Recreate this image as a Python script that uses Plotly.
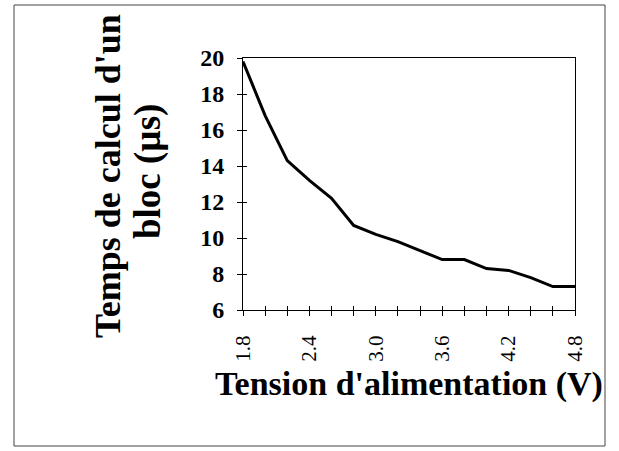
import plotly.graph_objects as go

voltages = [1.8, 2.0, 2.2, 2.4, 2.6, 2.8, 3.0, 3.2, 3.4, 3.6, 3.8, 4.0, 4.2, 4.4, 4.6, 4.8]
temps_us = [19.8, 16.8, 14.3, 13.2, 12.2, 10.7, 10.2, 9.8, 9.3, 8.8, 8.8, 8.3, 8.2, 7.8, 7.3, 7.3]
x_tick_vals = [1.8, 2.4, 3.0, 3.6, 4.2, 4.8]
x_tick_text = ["1.8", "2.4", "3.0", "3.6", "4.2", "4.8"]
y_tick_vals = [6, 8, 10, 12, 14, 16, 18, 20]

x_title = "Tension d'alimentation (V)"
y_title_1 = "Temps de calcul d'un"
y_title_2 = "bloc (µs)"

FONT = "Liberation Serif"

fig = go.Figure()
fig.add_trace(go.Scatter(x=voltages, y=temps_us, mode="lines",
                         line=dict(color="black", width=3), showlegend=False,
                         hoverinfo="skip"))
# invisible trace on overlay axes (for inner tick marks)
fig.add_trace(go.Scatter(x=voltages, y=temps_us, mode="lines", xaxis="x2", yaxis="y2",
                         line=dict(color="rgba(0,0,0,0)", width=0), showlegend=False,
                         hoverinfo="skip"))

fig.update_layout(
    width=619, height=451,
    margin=dict(l=243, r=44, t=58, b=141),
    paper_bgcolor="white", plot_bgcolor="white",
    font=dict(family=FONT, color="black"),
    xaxis=dict(range=[1.8, 4.8], tickmode="array", tickvals=x_tick_vals, ticktext=x_tick_text,
               tickangle=-90, tickfont=dict(size=21, family=FONT),
               ticks="outside", ticklen=5, tickwidth=1, tickcolor="black",
               minor=dict(dtick=0.2, tick0=1.8, ticks="outside", ticklen=5, tickcolor="black", showgrid=False),
               showline=True, linecolor="black", linewidth=1, mirror=True,
               showgrid=False, zeroline=False, ticklabelstandoff=11,
               title=dict(text=x_title, font=dict(size=34, family=FONT, weight="bold"), standoff=10)),
    yaxis=dict(range=[6, 20], tickvals=y_tick_vals,
               tickfont=dict(size=24, family=FONT, weight="bold"),
               ticks="outside", ticklen=5, tickwidth=1, tickcolor="black",
               showline=True, linecolor="black", linewidth=1, mirror=True,
               showgrid=False, zeroline=False, ticklabelstandoff=8),
    xaxis2=dict(overlaying="x", anchor="y", range=[1.8, 4.8], dtick=0.2, tick0=1.8,
                ticks="inside", ticklen=4, tickcolor="black", showticklabels=False,
                showgrid=False, zeroline=False, showline=False),
    yaxis2=dict(overlaying="y", anchor="x", range=[6, 20], dtick=2,
                ticks="inside", ticklen=4, tickcolor="black", showticklabels=False,
                showgrid=False, zeroline=False, showline=False),
    annotations=[
        dict(text=y_title_1, xref="paper", yref="paper", x=(108 - 243) / 332, y=(310 - 176) / 252,
             xanchor="center", yanchor="middle", textangle=-90, showarrow=False,
             font=dict(size=36, family=FONT, weight="bold")),
        dict(text=y_title_2, xref="paper", yref="paper", x=(148 - 243) / 332, y=(310 - 172) / 252,
             xanchor="center", yanchor="middle", textangle=-90, showarrow=False,
             font=dict(size=37, family=FONT, weight="bold")),
    ],
    shapes=[dict(type="rect", xref="paper", yref="paper",
                 x0=(14 - 243) / 332, x1=(605 - 243) / 332,
                 y0=(310 - 446) / 252, y1=(310 - 5) / 252,
                 line=dict(color="#444", width=1))],
)
fig.write_html("out.html", config={"displayModeBar": False},
               post_script="document.body.style.margin='0';document.body.style.overflow='hidden';")
